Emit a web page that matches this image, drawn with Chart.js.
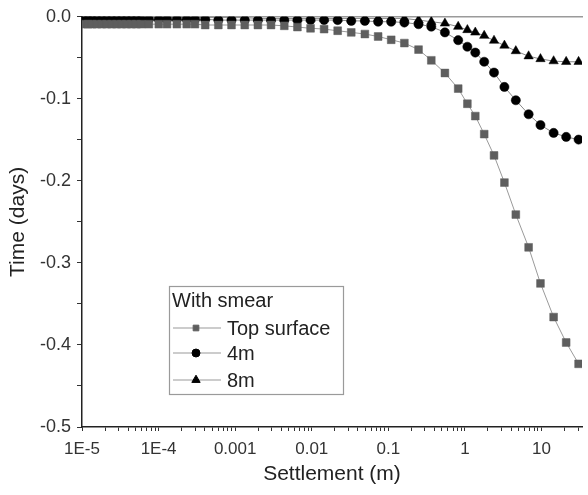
<!DOCTYPE html>
<html>
<head>
<meta charset="utf-8">
<script src="https://cdn.jsdelivr.net/npm/chart.js@4.4.1/dist/chart.umd.min.js"></script>
<style>
  html, body { margin: 0; padding: 0; background: #fff; }
  #wrap { width: 588px; height: 495px; }
</style>
</head>
<body>
<div id="wrap"><canvas id="settleChart" width="588" height="495"></canvas></div>
<script>
// values (x on log scale, y negative downwards)
const settlement = [
  1.06e-5, 1.195e-5, 1.35e-5, 1.56e-5, 1.81e-5, 2.10e-5, 2.44e-5, 2.83e-5, 3.28e-5, 3.81e-5,
  4.42e-5, 5.13e-5, 5.94e-5, 7.47e-5, 1.006e-4, 1.288e-4, 1.733e-4, 2.33e-4, 2.985e-4, 4.06e-4,
  6.03e-4, 8.96e-4, 1.334e-3, 1.98e-3, 2.94e-3, 4.38e-3, 0.0065, 0.00965, 0.0145, 0.0218,
  0.0328, 0.0494, 0.0736, 0.109, 0.162, 0.248, 0.364, 0.548, 0.817, 1.077,
  1.366, 1.786, 2.40, 3.28, 4.62, 6.79, 9.70, 14.4, 21.0, 30.5
];
const topSurface = [
  -0.009, -0.009, -0.009, -0.009, -0.009, -0.009, -0.009, -0.009, -0.009, -0.009,
  -0.009, -0.009, -0.009, -0.009, -0.009, -0.009, -0.009, -0.009, -0.009, -0.010,
  -0.010, -0.010, -0.010, -0.010, -0.010, -0.011, -0.0125, -0.014, -0.015, -0.017,
  -0.019, -0.021, -0.024, -0.028, -0.032, -0.040, -0.053, -0.0685, -0.0875, -0.106,
  -0.121, -0.143, -0.169, -0.202, -0.241, -0.281, -0.325, -0.366, -0.397, -0.423
];
const depth4m = [
  -0.003, -0.003, -0.003, -0.003, -0.003, -0.003, -0.003, -0.003, -0.003, -0.003,
  -0.003, -0.003, -0.003, -0.003, -0.003, -0.003, -0.003, -0.003, -0.003, -0.003,
  -0.004, -0.004, -0.004, -0.004, -0.004, -0.004, -0.004, -0.004, -0.004, -0.004,
  -0.005, -0.005, -0.006, -0.006, -0.007, -0.009, -0.012, -0.019, -0.0285, -0.0365,
  -0.0436, -0.0548, -0.068, -0.0855, -0.1017, -0.1188, -0.132, -0.1415, -0.1464, -0.1497
];
const depth8m = [
  -0.001, -0.001, -0.001, -0.001, -0.001, -0.001, -0.001, -0.001, -0.001, -0.001,
  -0.001, -0.001, -0.001, -0.001, -0.001, -0.001, -0.001, -0.001, -0.001, -0.001,
  -0.001, -0.001, -0.001, -0.002, -0.002, -0.002, -0.002, -0.002, -0.002, -0.002,
  -0.002, -0.002, -0.002, -0.002, -0.002, -0.004, -0.006, -0.008, -0.012, -0.016,
  -0.019, -0.023, -0.029, -0.035, -0.0417, -0.048, -0.0514, -0.054, -0.0548, -0.0548
];
const seriesNames = ['Top surface', '4m', '8m'];
const legendTitle = 'With smear';

const xTickVals = [1e-5, 1e-4, 1e-3, 1e-2, 1e-1, 1, 10];
const xTickText = ['1E-5', '1E-4', '0.001', '0.01', '0.1', '1', '10'];
const yTickVals = [0, -0.1, -0.2, -0.3, -0.4, -0.5];
const yTickText = ['0.0', '-0.1', '-0.2', '-0.3', '-0.4', '-0.5'];

const X_MIN = 1e-5, X_MAX = 33.8;
const FONT = "'Liberation Sans', Arial, sans-serif";

function pts(ys) {
  var out = [];
  for (var i = 0; i < settlement.length; i++) {
    out.push({ x: settlement[i], y: ys[i] });
  }
  return out;
}

function findLabel(vals, texts, v, useLog) {
  for (var i = 0; i < vals.length; i++) {
    var a = useLog ? Math.log10(vals[i]) : vals[i];
    var b = useLog ? Math.log10(v) : v;
    if (Math.abs(a - b) < 1e-6) return texts[i];
  }
  return '';
}

// legend sits inside the plot, drawn like the original boxed legend
const boxLegend = {
  id: 'boxLegend',
  afterDatasetsDraw(chart) {
    const ctx = chart.ctx;
    const x0 = 169, y0 = 286, w = 174, h = 108;
    ctx.save();
    ctx.fillStyle = '#fff';
    ctx.fillRect(x0, y0, w, h);
    ctx.strokeStyle = '#9a9a9a';
    ctx.lineWidth = 1.2;
    ctx.strokeRect(x0 + 0.5, y0 + 0.5, w, h);
    ctx.font = '20px ' + FONT;
    ctx.fillStyle = '#222';
    ctx.textBaseline = 'middle';
    ctx.fillText(legendTitle, x0 + 3, y0 + 15);
    var rows = [y0 + 42, y0 + 67, y0 + 94];
    chart.data.datasets.forEach(function (ds, i) {
      var ry = rows[i];
      ctx.strokeStyle = '#9a9a9a';
      ctx.lineWidth = 1.2;
      ctx.beginPath();
      ctx.moveTo(x0 + 4, ry);
      ctx.lineTo(x0 + 52, ry);
      ctx.stroke();
      ctx.fillStyle = ds.pointBackgroundColor;
      ctx.strokeStyle = ds.pointBorderColor;
      ctx.lineWidth = 1;
      Chart.helpers.drawPoint(ctx, {
        pointStyle: ds.pointStyle,
        radius: ds.legendRadius,
        rotation: 0,
        borderWidth: 1
      }, x0 + 27, ry);
      ctx.fillStyle = '#222';
      ctx.fillText(ds.label, x0 + 58, ry + 1);
    });
    ctx.restore();
  }
};

var ctx = document.getElementById('settleChart').getContext('2d');
var chart = new Chart(ctx, {
  type: 'line',
  data: {
    datasets: [{
      label: seriesNames[0],
      data: pts(topSurface),
      borderColor: '#9a9a9a',
      borderWidth: 1,
      pointStyle: 'rect',
      pointRadius: 5.5,
      legendRadius: 4,
      pointBackgroundColor: '#5e5e5e',
      pointBorderColor: '#5e5e5e',
      pointBorderWidth: 0.5
    },
    {
      label: seriesNames[1],
      data: pts(depth4m),
      borderColor: '#888',
      borderWidth: 1,
      pointStyle: 'circle',
      pointRadius: 4.6,
      legendRadius: 4,
      pointBackgroundColor: '#000',
      pointBorderColor: '#000',
      pointBorderWidth: 0.5
    },
    {
      label: seriesNames[2],
      data: pts(depth8m),
      borderColor: '#888',
      borderWidth: 1,
      pointStyle: 'triangle',
      pointRadius: 5.4,
      legendRadius: 4.8,
      pointBackgroundColor: '#000',
      pointBorderColor: '#000',
      pointBorderWidth: 0.5
    }]
  },
  options: {
    responsive: false,
    animation: false,
    layout: { padding: { top: 16, right: 0, left: 0, bottom: 0 } },
    plugins: {
      legend: { display: false },
      tooltip: { enabled: false }
    },
    scales: {
      x: {
        type: 'logarithmic',
        position: 'bottom',
        min: X_MIN,
        max: X_MAX,
        afterBuildTicks: function (scale) {
          var t = [];
          for (var i = 0; i < xTickVals.length; i++) {
            for (var k = 1; k <= 9; k++) {
              var v = xTickVals[i] * k;
              if (v <= X_MAX) t.push({ value: v, major: k === 1 });
            }
          }
          scale.ticks = t;
        },
        afterFit: function (scale) { scale.height = 68; },
        border: { color: '#222', width: 1.5 },
        grid: {
          drawOnChartArea: false,
          drawTicks: true,
          tickLength: 4,
          tickColor: '#333',
          tickWidth: 1
        },
        ticks: {
          autoSkip: false,
          maxRotation: 0,
          padding: 8,
          color: '#333',
          font: { family: FONT, size: 17 },
          callback: function (v) { return findLabel(xTickVals, xTickText, v, true); }
        },
        title: {
          display: true,
          text: 'Settlement (m)',
          color: '#222',
          font: { family: FONT, size: 21 },
          padding: { top: 4, bottom: 8 }
        }
      },
      xTop: {
        type: 'logarithmic',
        position: 'top',
        min: X_MIN,
        max: X_MAX,
        afterFit: function (scale) { scale.height = 0; },
        border: { color: '#9a9a9a', width: 1.5 },
        grid: { display: false },
        ticks: { display: false }
      },
      y: {
        type: 'linear',
        min: -0.5,
        max: 0,
        afterBuildTicks: function (scale) {
          var t = [];
          for (var i = 0; i <= 10; i++) t.push({ value: -0.05 * i });
          scale.ticks = t;
        },
        afterFit: function (scale) { scale.width = 82; },
        border: { color: '#222', width: 1.5 },
        grid: {
          drawOnChartArea: false,
          drawTicks: true,
          tickLength: 5,
          tickColor: '#333'
        },
        ticks: {
          padding: 6,
          color: '#333',
          font: { family: FONT, size: 18 },
          callback: function (v) { return findLabel(yTickVals, yTickText, v, false); }
        },
        title: {
          display: true,
          text: 'Time (days)',
          color: '#222',
          font: { family: FONT, size: 21 },
          padding: { top: 6, bottom: 2 }
        }
      }
    }
  },
  plugins: [boxLegend]
});
</script>
</body>
</html>
